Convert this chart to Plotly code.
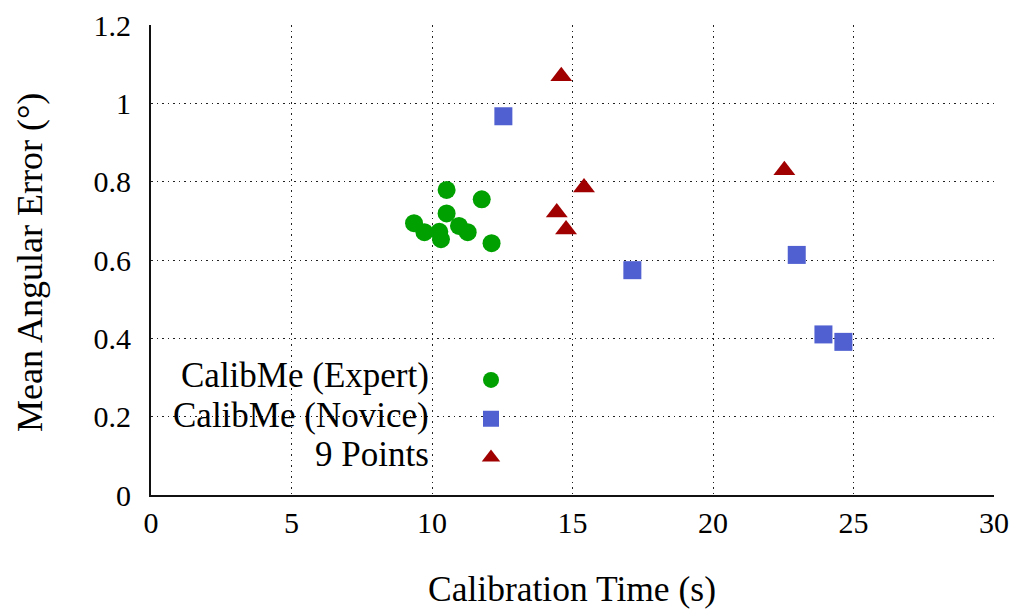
import plotly.graph_objects as go

# Calibration time (s) and mean angular error (deg) per session
expert_time = [10.52, 11.77, 10.52, 9.36, 9.73, 10.26, 10.32, 10.96, 11.27, 12.12]
expert_err = [0.779, 0.755, 0.719, 0.694, 0.671, 0.672, 0.653, 0.687, 0.671, 0.643]

novice_time = [12.54, 17.13, 22.98, 23.93, 24.64]
novice_err = [0.967, 0.574, 0.613, 0.410, 0.391]

ninept_time = [14.60, 15.41, 14.44, 14.77, 22.54]
ninept_err = [1.069, 0.785, 0.721, 0.678, 0.829]

series_names = ["CalibMe (Expert)", "CalibMe (Novice)", "9 Points"]

x_ticks = [0, 5, 10, 15, 20, 25, 30]
x_ticktext = ["0", "5", "10", "15", "20", "25", "30"]
y_ticks = [0, 0.2, 0.4, 0.6, 0.8, 1.0, 1.2]
y_ticktext = ["0", "0.2", "0.4", "0.6", "0.8", "1", "1.2"]

FONT = "Liberation Serif"
GREEN = "#00a000"
BLUE = "#5060d0"
RED = "#a00000"

styles = [
    dict(symbol="circle", color=GREEN, size=18),
    dict(symbol="square", color=BLUE, size=18),
    dict(symbol="triangle-up", color=RED, size=19),
]
data = [(expert_time, expert_err), (novice_time, novice_err), (ninept_time, ninept_err)]

fig = go.Figure()
for name, (xs, ys), st in zip(series_names, data, styles):
    fig.add_trace(go.Scatter(
        x=xs, y=ys, mode="markers", name=name, showlegend=False,
        marker=dict(symbol=st["symbol"], color=st["color"], size=st["size"],
                    line=dict(width=0)),
    ))

# legend keys (labels are placed to their left, gnuplot style)
for st in styles:
    fig.add_trace(go.Scatter(
        x=[None], y=[None], mode="markers", name=" ", showlegend=True,
        marker=dict(symbol=st["symbol"], color=st["color"], size=st["size"],
                    line=dict(width=0)),
    ))

L, R, T, B = 151, 24, 25, 115
W, H = 1018, 610
pw, ph = W - L - R, H - T - B


def px_x(p):
    return (p - L) / pw


def px_y(p):
    return (H - B - p) / ph


annotations = []
for label, row_y in zip(series_names, [375, 415, 454]):
    annotations.append(dict(
        text=label, xref="paper", yref="paper", x=px_x(431), y=px_y(row_y),
        xanchor="right", yanchor="middle", showarrow=False,
        font=dict(family=FONT, size=35, color="black"),
    ))
annotations.append(dict(
    text="Mean Angular Error (°)", xref="paper", yref="paper",
    x=px_x(30), y=px_y(263), textangle=-90, xanchor="center", yanchor="middle",
    showarrow=False, font=dict(family=FONT, size=36, color="black"),
))
annotations.append(dict(
    text="Calibration Time (s)", xref="paper", yref="paper",
    x=px_x(572), y=px_y(589), xanchor="center", yanchor="middle",
    showarrow=False, font=dict(family=FONT, size=35.5, color="black"),
))

fig.update_layout(
    width=W, height=H,
    margin=dict(l=L, r=R, t=T, b=B),
    paper_bgcolor="white", plot_bgcolor="white",
    font=dict(family=FONT, size=27, color="black"),
    showlegend=True,
    legend=dict(
        x=px_x(471), y=px_y(355.5), xanchor="left", yanchor="top",
        bgcolor="rgba(0,0,0,0)", borderwidth=0,
        font=dict(family=FONT, size=27.5), itemsizing="trace",
    ),
    annotations=annotations,
    shapes=[dict(
        type="rect", xref="paper", yref="paper", layer="between",
        x0=px_x(153), x1=px_x(552), y0=px_y(475), y1=px_y(359),
        fillcolor="white", line=dict(width=0),
    )],
)

grid = dict(showgrid=True, gridcolor="#222", griddash="1.5px,4px", gridwidth=1,
            zeroline=False, showline=True, linecolor="#111", linewidth=2, ticks="",
            automargin=False)

fig.update_xaxes(
    range=[0, 30], tickmode="array", tickvals=x_ticks, ticktext=x_ticktext,
    ticklabelstandoff=0,
    tickfont=dict(family=FONT, size=30, color="black"),
    **grid,
)
fig.update_yaxes(
    range=[0, 1.2], tickmode="array", tickvals=y_ticks, ticktext=y_ticktext,
    ticklabelstandoff=12,
    tickfont=dict(family=FONT, size=30, color="black"),
    **grid,
)

fig.write_html("out.html")
